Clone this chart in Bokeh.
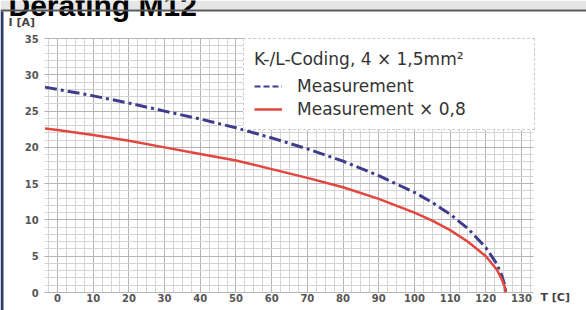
from bokeh.plotting import figure
from bokeh.models import Range1d, SingleIntervalTicker, Label, Legend, LegendItem, BoxAnnotation
from bokeh.embed import file_html
from bokeh.resources import INLINE

# ---- data ----
temps = [-3.5, 0, 10, 20, 30, 40, 50, 60, 70, 80, 90, 100, 105, 110, 115, 120, 123, 124.5, 125.3, 125.6]
measurement = [28.3, 28.0, 27.1, 26.1, 25.0, 23.9, 22.7, 21.3, 19.8, 18.1, 16.1, 13.8, 12.4, 10.8, 8.8, 6.2, 4.0, 2.3, 1.0, 0.0]
measurement_08 = [22.6, 22.4, 21.7, 20.9, 20.0, 19.1, 18.2, 17.0, 15.8, 14.5, 12.9, 11.0, 9.9, 8.6, 7.0, 5.0, 3.2, 1.8, 0.8, 0.0]
legend_title = "K-/L-Coding, 4 \u00d7 1,5mm\u00b2"
series_labels = ["Measurement", "Measurement \u00d7 0,8"]
x_label = "T [C]"
y_label = "I [A]"
header_text = "Derating M12"
x_grid_span = (-3.6, 133.4)
y_grid_span = (0, 35)
x_tick_span = (0, 130)

BLUE = "#3d3d8c"
RED = "#e2463f"
FONT = "DejaVu Sans"
NAN = float("nan")
W, H = 586, 310

# the frame fills the whole canvas; the chart region is bounded by the grid
p = figure(width=W, height=H, title=None,
           x_range=Range1d(-15.97, 148.21), y_range=Range1d(-2.48, 40.24),
           output_backend="svg", toolbar_location=None,
           min_border_left=0, min_border_right=0, min_border_top=0, min_border_bottom=0,
           background_fill_color="white", border_fill_color="white")
p.outline_line_color = None

p.xaxis.ticker = SingleIntervalTicker(interval=10, num_minor_ticks=4)
p.yaxis.ticker = SingleIntervalTicker(interval=5, num_minor_ticks=5)
p.xaxis.fixed_location = y_grid_span[0]
p.yaxis.fixed_location = x_grid_span[0]
p.xaxis.bounds = x_tick_span
p.yaxis.bounds = y_grid_span

for ax in (p.xaxis, p.yaxis):
    ax.axis_line_color = None
    ax.major_tick_line_color = None
    ax.minor_tick_line_color = None
    ax.major_tick_out = 0
    ax.major_tick_in = 0
    ax.minor_tick_out = 0
    ax.minor_tick_in = 0
    ax.major_label_text_font = FONT
    ax.major_label_text_font_size = "10px"
    ax.major_label_text_font_style = "bold"
    ax.major_label_text_color = "#555555"
p.xaxis.major_label_standoff = 1
p.yaxis.major_label_standoff = 6

p.xgrid.bounds = x_grid_span
p.xgrid.cross_bounds = y_grid_span
p.ygrid.bounds = (y_grid_span[0] - 0.05, y_grid_span[1] + 0.05)
p.ygrid.cross_bounds = x_grid_span
for g in (p.xgrid, p.ygrid):
    g.grid_line_color = "#b4b4b4"
    g.grid_line_width = 1
    g.minor_grid_line_color = "#d4d4d4"
    g.minor_grid_line_width = 1

r_blue = p.line(temps, measurement, line_color=BLUE, line_width=3, line_dash="12 4 3 4")
r_red = p.line(temps, measurement_08, line_color=RED, line_width=2.5)
r_blue_key = p.line([NAN], [NAN], line_color=BLUE, line_width=2, line_dash="6 3")

legend = Legend(items=[LegendItem(label=series_labels[0], renderers=[r_blue_key]),
                       LegendItem(label=series_labels[1], renderers=[r_red])],
                title=legend_title, location=(243, 180))
legend.title_text_font = FONT
legend.title_text_font_size = "17px"
legend.title_text_font_style = "normal"
legend.title_text_color = "#333333"
legend.title_standoff = 7
legend.label_text_font = FONT
legend.label_text_font_size = "17px"
legend.label_text_color = "#333333"
legend.label_height = 20
legend.glyph_height = 20
legend.glyph_width = 28
legend.label_standoff = 15
legend.label_width = 227
legend.spacing = 3
legend.padding = 10
legend.margin = 0
legend.border_line_color = "#9a9a9a"
legend.border_line_dash = "dotted"
legend.border_line_width = 1
legend.background_fill_color = "white"
legend.background_fill_alpha = 1.0
p.add_layout(legend)

# page decorations (screen units: from the canvas's bottom-left corner)
def box(l, r, t, b, color):
    return BoxAnnotation(left=l, right=r, top=t, bottom=b,
                         left_units="screen", right_units="screen",
                         top_units="screen", bottom_units="screen",
                         fill_color=color, fill_alpha=1, line_color=None)

p.add_layout(box(0, W, H, H - 9, "#e6e6e6"))
p.add_layout(Label(x=8, y=H - 5, x_units="screen", y_units="screen", text=header_text,
                   text_font="Liberation Sans", text_font_size="30px", text_font_style="bold",
                   text_color="black", text_baseline="alphabetic", text_align="left"))
p.add_layout(box(0, W, H - 9, H - 11, "#5a5a5a"))
p.add_layout(box(0, 3, H - 11, 0, "#2b3a6b"))

p.add_layout(Label(x=8, y=H - 22, x_units="screen", y_units="screen", text=y_label,
                   text_font=FONT, text_font_size="11px", text_font_style="bold",
                   text_color="#444444", text_baseline="middle", text_align="left"))
p.add_layout(Label(x=540, y=H - 297, x_units="screen", y_units="screen", text=x_label,
                   text_font=FONT, text_font_size="11px", text_font_style="bold",
                   text_color="#444444", text_baseline="middle", text_align="left"))

open("out.html", "w").write(file_html(p, INLINE))
